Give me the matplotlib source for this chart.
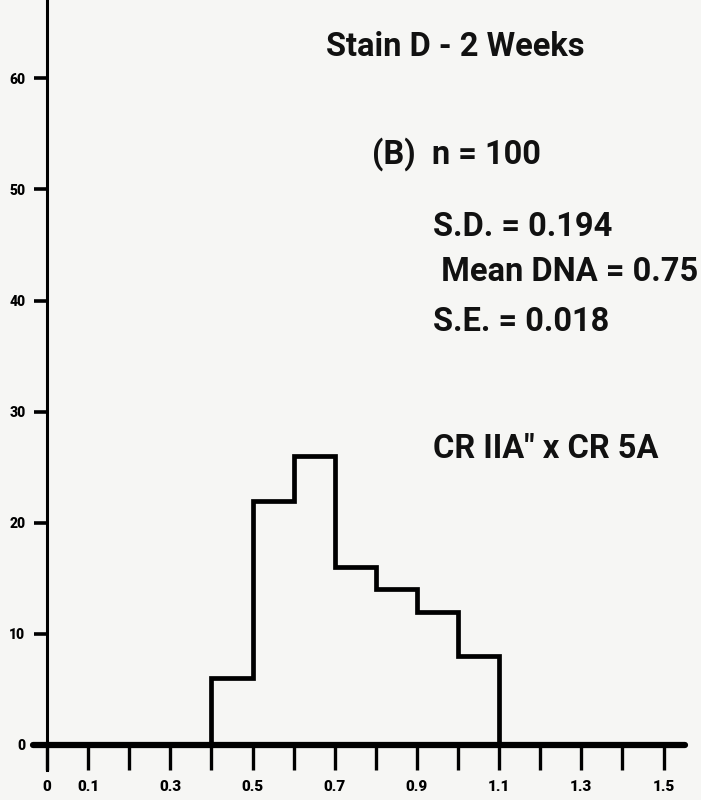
import matplotlib.pyplot as plt

# DNA content histogram, 0.1-wide classes
bin_edges = [0.4, 0.5, 0.6, 0.7, 0.8, 0.9, 1.0, 1.1]
counts = [6, 22, 26, 16, 14, 12, 8]

x_ticks = [i / 10 for i in range(16)]
x_labels = ["0", "0.1", "", "0.3", "", "0.5", "", "0.7", "", "0.9", "", "1.1", "", "1.3", "", "1.5"]
y_ticks = [0, 10, 20, 30, 40, 50, 60]
y_labels = ["0", "10", "20", "30", "40", "50", "60"]

title = "Stain D - 2 Weeks"
stats_lines = ["(B)  n = 100", "S.D. = 0.194", " Mean DNA = 0.75", "S.E. = 0.018"]
cross = "CR IIA\" x CR 5A"

plt.rcParams["font.family"] = ["Roboto", "Liberation Sans", "DejaVu Sans"]
plt.rcParams["font.weight"] = "bold"

W, H = 701, 800
fig = plt.figure(figsize=(W / 100, H / 100), dpi=100, facecolor="#f6f6f4")
ax = fig.add_axes([0, 0, 1, 1])
ax.set_facecolor("none")

# pixel layout: x=0 at 47px, 41.1px per 0.1; y=0 at 745px, 11.11px per unit
x0, xs = 47.0, 411.0
y0, ys = 745.0, 11.11
ax.set_xlim(-x0 / xs, (W - x0) / xs)
ax.set_ylim(-(H - y0) / ys, y0 / ys)

ax.stairs(counts, bin_edges, baseline=0, color="black", linewidth=3.4, fill=False)

for s in ["top", "right"]:
    ax.spines[s].set_visible(False)
ax.spines["bottom"].set_position(("data", 0))
ax.spines["left"].set_position(("data", 0))
ax.spines["bottom"].set_linewidth(4.5)
ax.spines["left"].set_linewidth(2.2)
ax.spines["bottom"].set_bounds((33 - x0) / xs, (685 - x0) / xs)
ax.spines["left"].set_bounds(-(770 - y0) / ys, y0 / ys)
ax.spines["bottom"].set_capstyle("round")

ax.set_xticks(x_ticks)
ax.set_xticklabels(x_labels, fontsize=11, fontweight="heavy")
ax.tick_params(axis="x", direction="out", length=18, width=2.4, pad=7)
ax.set_yticks(y_ticks)
ax.set_yticklabels(y_labels, fontsize=10, fontweight="heavy")
ax.tick_params(axis="y", direction="out", length=9.5, width=2.6, pad=6)


def put(px, py, s, size):
    fig.text(px / W, 1 - py / H, s, fontsize=size, fontweight="bold",
             ha="left", va="baseline", color="#111111")


put(326, 56, title, 23.5)
put(372, 164, stats_lines[0], 23.5)
put(433, 236, stats_lines[1], 23.5)
put(433, 281, stats_lines[2], 23.5)
put(433, 331, stats_lines[3], 23.5)
put(433, 458, cross, 23.5)

fig.savefig("out.png", dpi=100, facecolor=fig.get_facecolor())
